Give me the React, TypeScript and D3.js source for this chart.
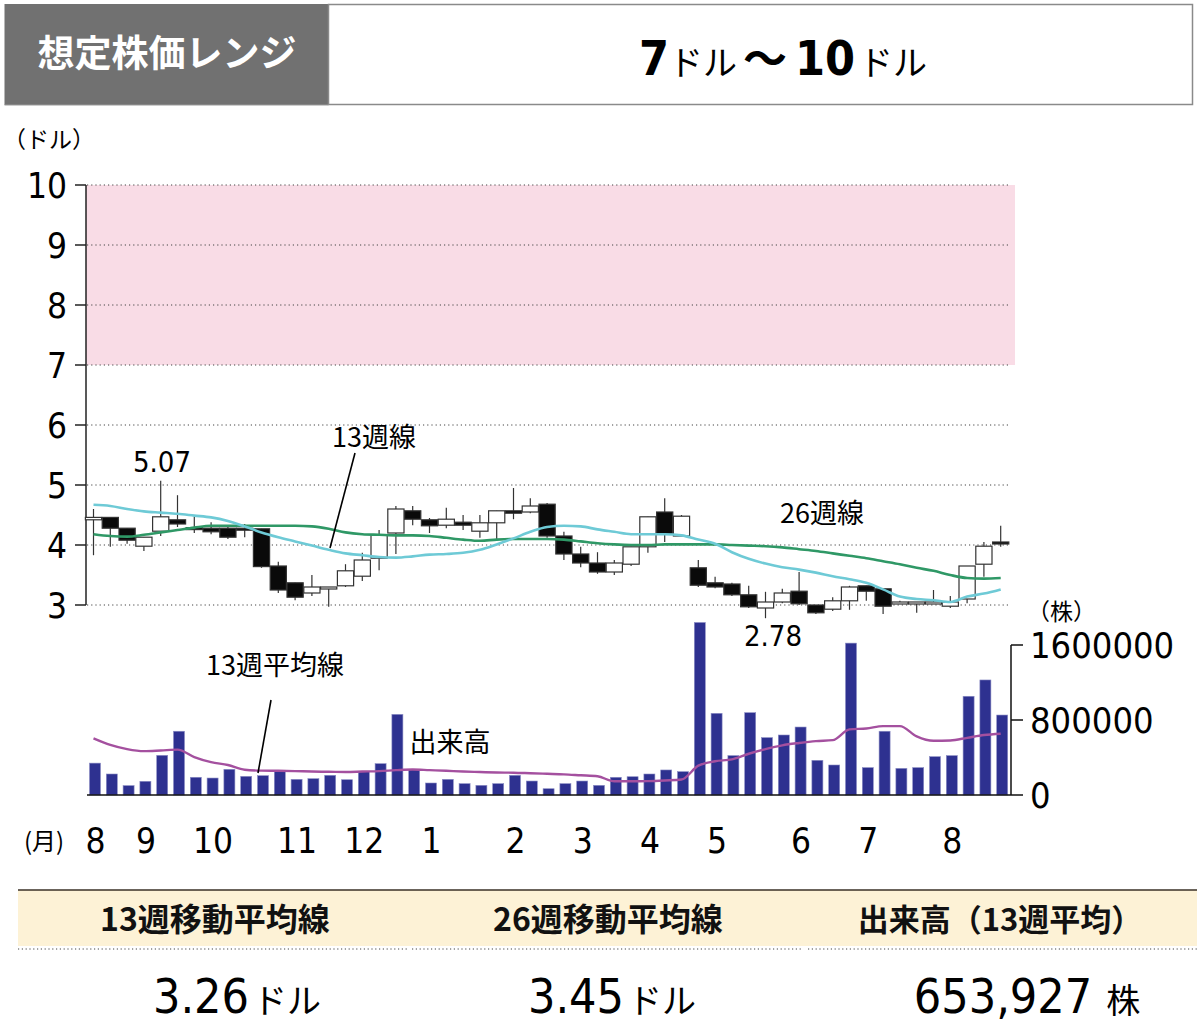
import * as d3 from 'd3';

// weekly candles (USD)
const openP = [4.42,4.46,4.28,3.98,4.23,4.42,4.29,4.28,4.28,4.28, 4.27,3.65,3.37,3.20,3.28,3.32,3.48,3.78,4.20,4.57, 4.42,4.33,4.38,4.23,4.37,4.57,4.55,4.68,4.15,3.85, 3.70,3.55,3.68,3.97,4.55,4.15,3.62,3.37,3.35,3.17, 2.95,3.05,3.23,3.00,2.93,3.07,3.32,3.27,3.03,3.03, 3.03,2.98,3.10,3.68,4.05];
const highP = [4.60,4.46,4.28,4.13,5.07,4.83,4.47,4.38,4.33,4.35, 4.27,3.72,3.37,3.50,3.30,3.68,3.87,4.25,4.65,4.65, 4.45,4.62,4.50,4.50,4.57,4.95,4.78,4.70,4.22,3.97, 3.88,3.75,3.97,4.47,4.78,4.50,3.75,3.47,3.37,3.32, 3.22,3.27,3.55,3.00,3.13,3.32,3.32,3.27,3.07,3.05, 3.25,3.15,3.65,4.05,4.32];
const lowP = [3.83,3.97,4.02,3.90,4.15,4.30,4.20,4.18,4.10,4.13, 3.62,3.20,3.08,3.15,2.97,3.30,3.40,3.58,3.85,4.33, 4.20,4.28,4.25,4.12,4.10,4.43,4.53,4.12,3.75,3.63, 3.52,3.50,3.65,3.87,4.05,4.15,3.30,3.28,3.15,2.95, 2.78,3.03,3.00,2.85,2.90,2.92,3.07,2.85,3.02,2.87, 3.03,2.95,3.03,3.47,3.97];
const closeP = [4.46,4.28,4.08,4.13,4.47,4.35,4.26,4.22,4.13,4.25, 3.64,3.25,3.13,3.30,3.30,3.57,3.75,4.17,4.60,4.43, 4.32,4.43,4.33,4.37,4.57,4.53,4.65,4.15,3.85,3.70, 3.55,3.70,3.97,4.47,4.18,4.48,3.33,3.30,3.17,2.97, 3.05,3.20,3.02,2.87,3.07,3.30,3.23,2.98,3.05,3.05, 3.05,3.05,3.65,3.98,4.04];

const ma13 = [4.67,4.65,4.60,4.56,4.54,4.52,4.49,4.46,4.40,4.31, 4.21,4.13,4.06,3.99,3.92,3.86,3.83,3.80,3.79,3.81, 3.84,3.85,3.87,3.92,4.01,4.11,4.22,4.30,4.32,4.31, 4.26,4.22,4.18,4.18,4.18,4.16,4.09,4.02,3.88,3.77, 3.69,3.63,3.59,3.54,3.48,3.43,3.37,3.26,3.14,3.10, 3.08,3.05,3.14,3.19,3.26];
const ma26 = [4.18,4.15,4.14,4.17,4.21,4.25,4.29,4.32,4.32,4.32, 4.32,4.32,4.32,4.31,4.27,4.21,4.18,4.17,4.16,4.16, 4.15,4.12,4.09,4.07,4.09,4.10,4.10,4.10,4.09,4.06, 4.03,4.01,4.00,4.00,4.01,4.01,4.01,4.01,4.00,3.99, 3.98,3.96,3.93,3.90,3.86,3.82,3.78,3.73,3.68,3.62, 3.57,3.50,3.45,3.44,3.45];

const volume = [340000,224000,100000,146000,423000,680000,189000,181000,274000,199000, 206000,253000,167000,174000,210000,163000,249000,334000,860000,274000, 128000,167000,121000,103000,121000,210000,149000,67000,121000,149000, 103000,189000,195000,224000,267000,249000,1840000,871000,420000,878000, 612000,640000,725000,370000,320000,1620000,292000,680000,284000,292000, 409000,420000,1053000,1227000,853000];
const volMa13 = [605000,535000,490000,468000,475000,484000,405000,350000,320000,270000, 260000,258000,255000,250000,248000,245000,250000,255000,265000,272000, 265000,258000,250000,245000,240000,238000,232000,226000,220000,210000, 200000,146000,146000,148000,155000,165000,313000,360000,380000,440000, 490000,530000,555000,575000,585000,700000,710000,735000,735000,625000, 578000,582000,610000,640000,654000];

const monthLabels = ['8','9','10','11','12','1','2','3','4','5','6','7','8'];
const monthWeek = [0,3,7,12,16,20,25,29,33,37,42,46,51];
const priceTicks = [3,4,5,6,7,8,9,10];
const volTicks = [0, 800000, 1600000];

const NUM = "'Liberation Sans Narrow', 'DejaVu Sans Condensed', 'Noto Sans CJK JP', sans-serif";
const JP = "'Noto Sans CJK JP', sans-serif";

export default function App() {
  const W = 1200, H = 1035;
  const n = openP.length;
  const x = d3.scaleLinear().domain([0, n - 1]).range([93.5, 1000.7]);
  const y = d3.scaleLinear().domain([3, 10]).range([605, 185]);
  const yv = d3.scaleLinear().domain([0, 1600000]).range([795, 645]);
  const cw = 16.2, bw = 11;
  const line = d3.line<number>().x((_, i) => x(i)).y((d) => y(d)).curve(d3.curveMonotoneX);
  const vline = d3.line<number>().x((_, i) => x(i)).y((d) => yv(d)).curve(d3.curveMonotoneX);
  const idx = d3.range(n);

  return (
    <svg width={W} height={H} style={{ position: 'absolute', left: 0, top: 0, background: '#fff' }}>
      {/* header */}
      <rect x={4.5} y={4} width={324} height={101} fill="#717171" />
      <rect x={328.5} y={4.5} width={864} height={100} fill="#fff" stroke="#8a8a8a" strokeWidth={1.5} />
      <line x1={4.5} x2={328.5} y1={105} y2={105} stroke="#9a9a9a" />
      <text x={167} y={67} textAnchor="middle" fill="#fff" fontFamily={JP} fontWeight={700} fontSize={37}>想定株価レンジ</text>
      <text x={783} y={75} textAnchor="middle" fill="#000" fontFamily={JP}>
        <tspan fontFamily={NUM} fontWeight={700} fontSize={48}>7</tspan>
        <tspan fontSize={34}>ドル</tspan>
        <tspan fontWeight={700} fontSize={44} dx={6}>〜</tspan>
        <tspan fontFamily={NUM} fontWeight={700} fontSize={48} dx={8}>10</tspan>
        <tspan fontSize={34} dx={4}>ドル</tspan>
      </text>

      {/* price panel */}
      <text x={3} y={148} fontFamily={JP} fontSize={23} fill="#000">（ドル）</text>
      <rect x={86} y={y(10)} width={1015 - 86} height={y(7) - y(10)} fill="#f9dce6" />
      {priceTicks.map((t) => (
        <g key={t}>
          <line x1={87} x2={1010} y1={y(t)} y2={y(t)} stroke="#444" strokeWidth={1} strokeDasharray="1.2,3" />
          <line x1={75} x2={86} y1={y(t)} y2={y(t)} stroke="#222" strokeWidth={1.5} />
          <text x={67} y={y(t)} dy="0.36em" textAnchor="end" fontFamily={NUM} fontSize={35} fill="#000">{t}</text>
        </g>
      ))}
      <line x1={86} x2={86} y1={y(10)} y2={y(3)} stroke="#222" strokeWidth={1.5} />

      {idx.map((i) => (
        <line key={'w' + i} x1={x(i)} x2={x(i)} y1={y(highP[i])} y2={y(lowP[i])} stroke="#333" strokeWidth={1.2} />
      ))}
      {idx.map((i) => {
        const up = closeP[i] >= openP[i];
        const top = y(Math.max(openP[i], closeP[i]));
        const h = Math.max(2, Math.abs(y(openP[i]) - y(closeP[i])));
        return (
          <rect key={'b' + i} x={x(i) - cw / 2} y={top} width={cw} height={h}
            fill={up ? '#fff' : '#0a0a0a'} stroke="#333" strokeWidth={1.2} />
        );
      })}
      <path d={line(ma26) ?? ''} fill="none" stroke="#2f9866" strokeWidth={2.6} />
      <path d={line(ma13) ?? ''} fill="none" stroke="#6ecad6" strokeWidth={2.6} />

      <text x={162} y={472} textAnchor="middle" fontFamily={NUM} fontSize={29} fill="#000">5.07</text>
      <text x={773} y={646} textAnchor="middle" fontFamily={NUM} fontSize={29} fill="#000">2.78</text>
      <text x={374} y={447} textAnchor="middle" fontFamily={JP} fontSize={27} fill="#000">13週線</text>
      <line x1={355} x2={330} y1={453} y2={548} stroke="#000" strokeWidth={1.6} />
      <text x={822} y={523} textAnchor="middle" fontFamily={JP} fontSize={27} fill="#000">26週線</text>

      {/* volume panel */}
      {idx.map((i) => (
        <rect key={'v' + i} x={x(i) - bw / 2 + 1.5} y={yv(volume[i])} width={bw} height={yv(0) - yv(volume[i])}
          fill="#2e3190" stroke="#8a8cc4" strokeWidth={0.6} />
      ))}
      <path d={vline(volMa13) ?? ''} fill="none" stroke="#a4509f" strokeWidth={2.4} />
      <line x1={87} x2={1011} y1={795} y2={795} stroke="#111" strokeWidth={1.5} />
      <line x1={1011} x2={1011} y1={yv(1600000)} y2={795} stroke="#111" strokeWidth={1.5} />
      {volTicks.map((t) => (
        <g key={t}>
          <line x1={1011} x2={1023} y1={yv(t)} y2={yv(t)} stroke="#111" strokeWidth={1.5} />
          <text x={1030} y={yv(t)} dy="0.36em" fontFamily={NUM} fontSize={36} fill="#000">{t}</text>
        </g>
      ))}
      <text x={1027} y={620} fontFamily={JP} fontSize={23} fill="#000">（株）</text>
      <text x={275} y={675} textAnchor="middle" fontFamily={JP} fontSize={27} fill="#000">13週平均線</text>
      <line x1={271} x2={258} y1={700} y2={773} stroke="#000" strokeWidth={1.6} />
      <text x={450} y={752} textAnchor="middle" fontFamily={JP} fontSize={27} fill="#000">出来高</text>

      {/* months */}
      <text x={24} y={850} fontFamily={JP} fontSize={24} fill="#000">(月)</text>
      {monthLabels.map((m, k) => (
        <text key={k} x={x(monthWeek[k]) + 2} y={853} textAnchor="middle" fontFamily={NUM} fontSize={35} fill="#000">{m}</text>
      ))}

      {/* summary table */}
      <rect x={18} y={890} width={1179} height={56} fill="#fdf2d6" />
      <line x1={18} x2={1197} y1={890} y2={890} stroke="#3a3026" strokeWidth={1.5} />
      {[[18, 408], [412, 803], [808, 1197]].map(([a, b], k) => (
        <line key={k} x1={a} x2={b} y1={949} y2={949} stroke="#444" strokeWidth={1} strokeDasharray="1.2,2.6" />
      ))}
      <text x={215} y={931} textAnchor="middle" fontFamily={JP} fontWeight={700} fontSize={32} fill="#111">13週移動平均線</text>
      <text x={608} y={931} textAnchor="middle" fontFamily={JP} fontWeight={700} fontSize={32} fill="#111">26週移動平均線</text>
      <text x={1000} y={931} textAnchor="middle" fontFamily={JP} fontWeight={700} fontSize={31} fill="#111">出来高（13週平均）</text>
      <text x={237} y={1013} textAnchor="middle" fontFamily={JP} fill="#000">
        <tspan fontFamily={NUM} fontSize={48}>3.26</tspan><tspan fontSize={34} dx={4}>ドル</tspan>
      </text>
      <text x={612} y={1013} textAnchor="middle" fontFamily={JP} fill="#000">
        <tspan fontFamily={NUM} fontSize={48}>3.45</tspan><tspan fontSize={34} dx={4}>ドル</tspan>
      </text>
      <text x={1027} y={1013} textAnchor="middle" fontFamily={JP} fill="#000">
        <tspan fontFamily={NUM} fontSize={48}>653,927</tspan><tspan fontSize={34} dx={14}>株</tspan>
      </text>
    </svg>
  );
}
